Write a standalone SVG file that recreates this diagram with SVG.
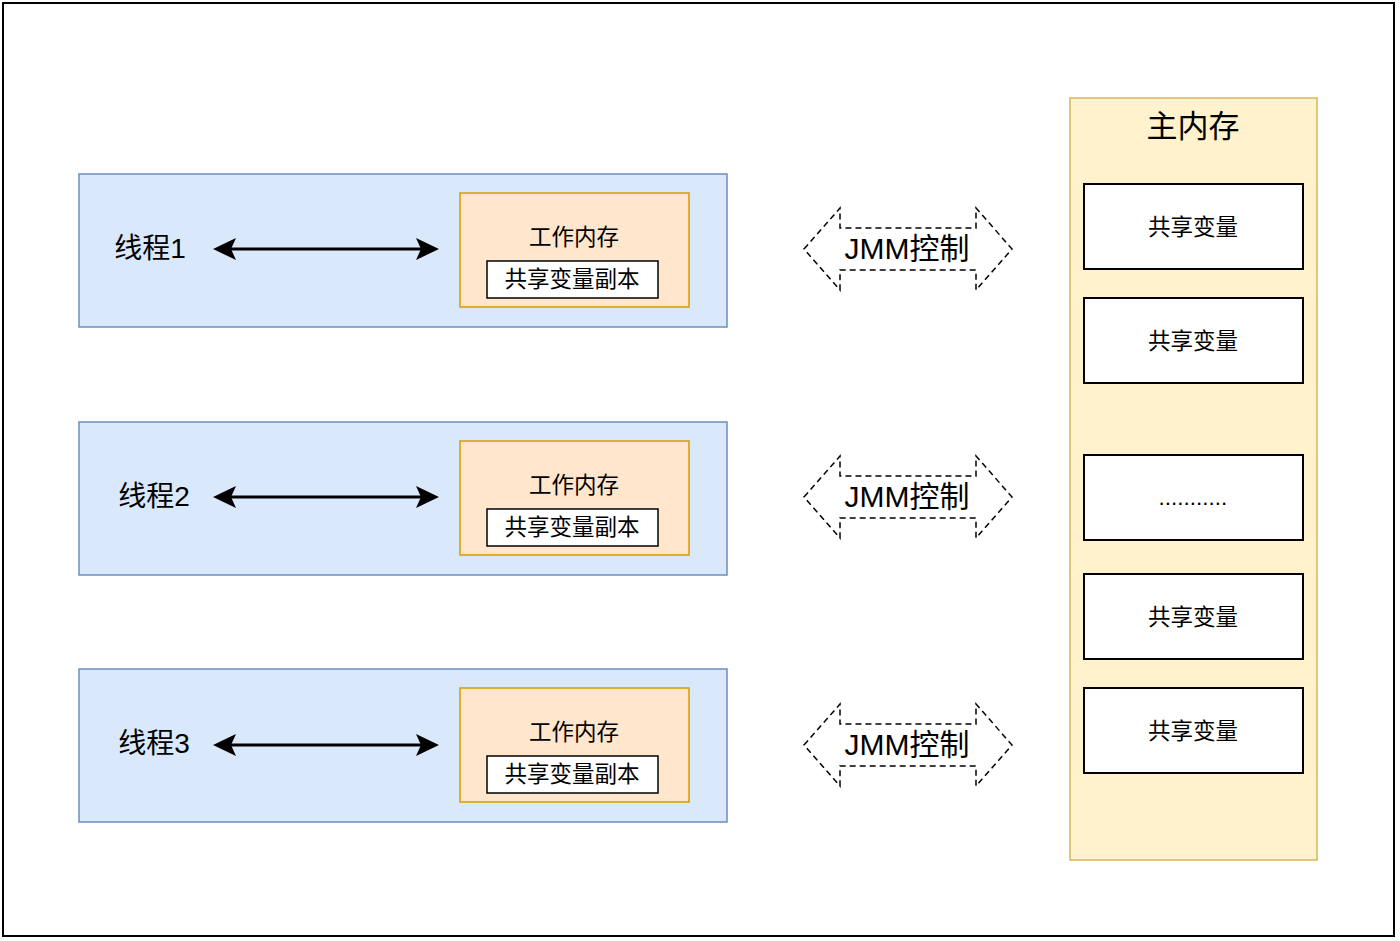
<svg xmlns="http://www.w3.org/2000/svg" width="1400" height="941" viewBox="0 0 1400 941">
<defs>
<style>
.frame{fill:#ffffff;stroke:#000;stroke-width:2}
.thread{fill:#dae8fc;stroke:#6c8ebf;stroke-width:1.5}
.work{fill:#ffe6cc;stroke:#d79b00;stroke-width:1.5}
.copy{fill:#fff;stroke:#000;stroke-width:1.5}
.main{fill:#fff2cc;stroke:#d6b656;stroke-width:1.5}
.var{fill:#fff;stroke:#000;stroke-width:2}
.jmm{fill:#fff;stroke:#000;stroke-width:1.5;stroke-dasharray:6 4}
.link{stroke:#000;stroke-width:3;fill:none}
.head{fill:#000}
text{font-family:"Liberation Sans","Noto Sans CJK SC",sans-serif;fill:#000;text-anchor:middle;dominant-baseline:central}
.t26{font-size:28px}
.t21{font-size:22.5px}
.t30{font-size:31px}
.j30{font-size:30px}
</style>
</defs>
<rect class="frame" x="3" y="3" width="1391" height="933"/>

<g id="main-memory">
<rect class="main" x="1070" y="98" width="247" height="762"/>
<text class="t30" x="1193" y="126">主内存</text>
</g>
<g id="var1"><rect class="var" x="1084" y="184" width="219" height="85"/><text class="t21" x="1193" y="227">共享变量</text></g>
<g id="var2"><rect class="var" x="1084" y="298" width="219" height="85"/><text class="t21" x="1193" y="341">共享变量</text></g>
<g id="var3"><rect class="var" x="1084" y="455" width="219" height="85"/><text class="t21" x="1193" y="497">...........</text></g>
<g id="var4"><rect class="var" x="1084" y="574" width="219" height="85"/><text class="t21" x="1193" y="617">共享变量</text></g>
<g id="var5"><rect class="var" x="1084" y="688" width="219" height="85"/><text class="t21" x="1193" y="731">共享变量</text></g>

<g id="thread1">
<rect class="thread" x="79" y="174" width="648" height="153"/>
<text class="t26" x="150" y="248">线程1</text>
</g>
<g id="work1">
<rect class="work" x="460" y="193" width="229" height="114"/>
<text class="t21" x="574" y="237">工作内存</text>
<rect class="copy" x="487" y="261" width="171" height="37"/>
<text class="t21" x="572" y="279">共享变量副本</text>
</g>

<g id="thread2">
<rect class="thread" x="79" y="422" width="648" height="153"/>
<text class="t26" x="154" y="496">线程2</text>
</g>
<g id="work2">
<rect class="work" x="460" y="441" width="229" height="114"/>
<text class="t21" x="574" y="485">工作内存</text>
<rect class="copy" x="487" y="509" width="171" height="37"/>
<text class="t21" x="572" y="527">共享变量副本</text>
</g>

<g id="thread3">
<rect class="thread" x="79" y="669" width="648" height="153"/>
<text class="t26" x="154" y="743">线程3</text>
</g>
<g id="work3">
<rect class="work" x="460" y="688" width="229" height="114"/>
<text class="t21" x="574" y="732">工作内存</text>
<rect class="copy" x="487" y="756" width="171" height="37"/>
<text class="t21" x="572" y="774">共享变量副本</text>
</g>

<g id="jmm1">
<path class="jmm" d="M804,249 L840,208 L840,228 L976,228 L976,208 L1012,249 L976,290 L976,270 L840,270 L840,290 Z"/>
<text class="j30" x="907" y="248">JMM控制</text>
</g>
<g id="jmm2">
<path class="jmm" d="M804,497 L840,456 L840,476 L976,476 L976,456 L1012,497 L976,538 L976,518 L840,518 L840,538 Z"/>
<text class="j30" x="907" y="496">JMM控制</text>
</g>
<g id="jmm3">
<path class="jmm" d="M804,745 L840,704 L840,724 L976,724 L976,704 L1012,745 L976,786 L976,766 L840,766 L840,786 Z"/>
<text class="j30" x="907" y="744">JMM控制</text>
</g>

<g id="connectors">
<line class="link" x1="225" y1="249" x2="428" y2="249"/>
<path class="head" d="M213,249 L236,238 L231,249 L236,260 Z"/>
<path class="head" d="M439,249 L416,238 L421,249 L416,260 Z"/>
<line class="link" x1="225" y1="497" x2="428" y2="497"/>
<path class="head" d="M213,497 L236,486 L231,497 L236,508 Z"/>
<path class="head" d="M439,497 L416,486 L421,497 L416,508 Z"/>
<line class="link" x1="225" y1="745" x2="428" y2="745"/>
<path class="head" d="M213,745 L236,734 L231,745 L236,756 Z"/>
<path class="head" d="M439,745 L416,734 L421,745 L416,756 Z"/>
</g>
</svg>
